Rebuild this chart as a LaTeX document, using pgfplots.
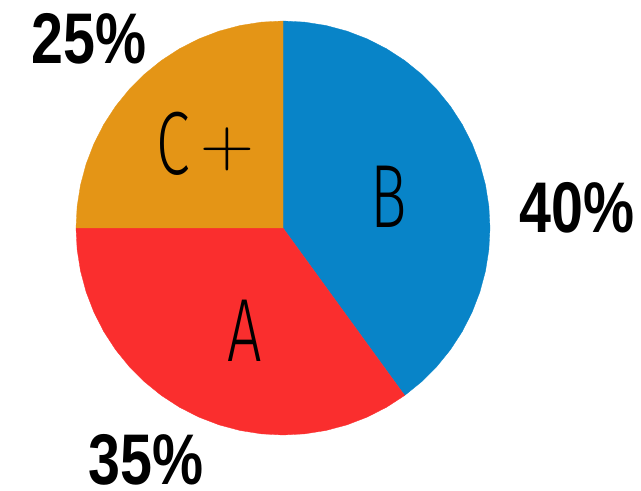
\documentclass[border=0pt]{standalone}
\usepackage{pgfplots}
\pgfplotsset{compat=1.18}
\usepackage{fontspec}
\setmainfont{Liberation Sans}
\newfontfamily\lightfont{Fira Sans Light}
\newfontfamily\boldfont{Liberation Sans Bold}
\newfontfamily\lmfont{Latin Modern Roman}
\definecolor{cB}{RGB}{8,132,200}
\definecolor{cA}{RGB}{250,46,46}
\definecolor{cC}{RGB}{228,149,22}
\newcommand{\pct}[1]{\scalebox{0.8}[1]{\boldfont\fontsize{72}{72}\selectfont #1}}
\newcommand{\lab}[1]{\scalebox{0.68}[1]{\lightfont\fontsize{90}{90}\selectfont #1}}
\begin{document}
\begin{tikzpicture}
\begin{axis}[
  scale only axis, width=641bp, height=491bp,
  xmin=-283, xmax=358, ymin=-263, ymax=228,
  hide axis, clip=false,
]
% B: 40%
\addplot[data cs=polar, fill=cB, draw=cB, line width=0.3pt] coordinates {
 (0,0) (90,207) (84,207) (78,207) (72,207) (66,207) (60,207) (54,207) (48,207) (42,207)
 (36,207) (30,207) (24,207) (18,207) (12,207) (6,207) (0,207) (-6,207) (-12,207)
 (-18,207) (-24,207) (-30,207) (-36,207) (-42,207) (-48,207) (-54,207) (0,0)};
% A: 35%
\addplot[data cs=polar, fill=cA, draw=cA, line width=0.3pt] coordinates {
 (0,0) (-54,207) (-60,207) (-66,207) (-72,207) (-78,207) (-84,207) (-90,207) (-96,207)
 (-102,207) (-108,207) (-114,207) (-120,207) (-126,207) (-132,207) (-138,207) (-144,207)
 (-150,207) (-156,207) (-162,207) (-168,207) (-174,207) (-180,207) (0,0)};
% C+: 25%
\addplot[data cs=polar, fill=cC, draw=cC, line width=0.3pt] coordinates {
 (0,0) (180,207) (174,207) (168,207) (162,207) (156,207) (150,207) (144,207) (138,207)
 (132,207) (126,207) (120,207) (114,207) (108,207) (102,207) (96,207) (90,207) (0,0)};
\node[inner sep=0pt] at (axis cs:-109.5,84.5) {\lab{C}};
\node[inner sep=0pt] at (axis cs:-56,79) {\scalebox{1}[0.92]{\lmfont\fontsize{75}{75}\selectfont +}};
\node[inner sep=0pt] at (axis cs:106,31) {\lab{B}};
\node[inner sep=0pt] at (axis cs:-38,-103) {\lab{A}};
\node[inner sep=0pt] at (axis cs:-194,189) {\pct{25\%}};
\node[inner sep=0pt] at (axis cs:294,20) {\pct{40\%}};
\node[inner sep=0pt] at (axis cs:-137,-232) {\pct{35\%}};
\end{axis}
\pgfresetboundingbox
\path (current axis.south west) rectangle (current axis.north east);
\end{tikzpicture}
\end{document}
